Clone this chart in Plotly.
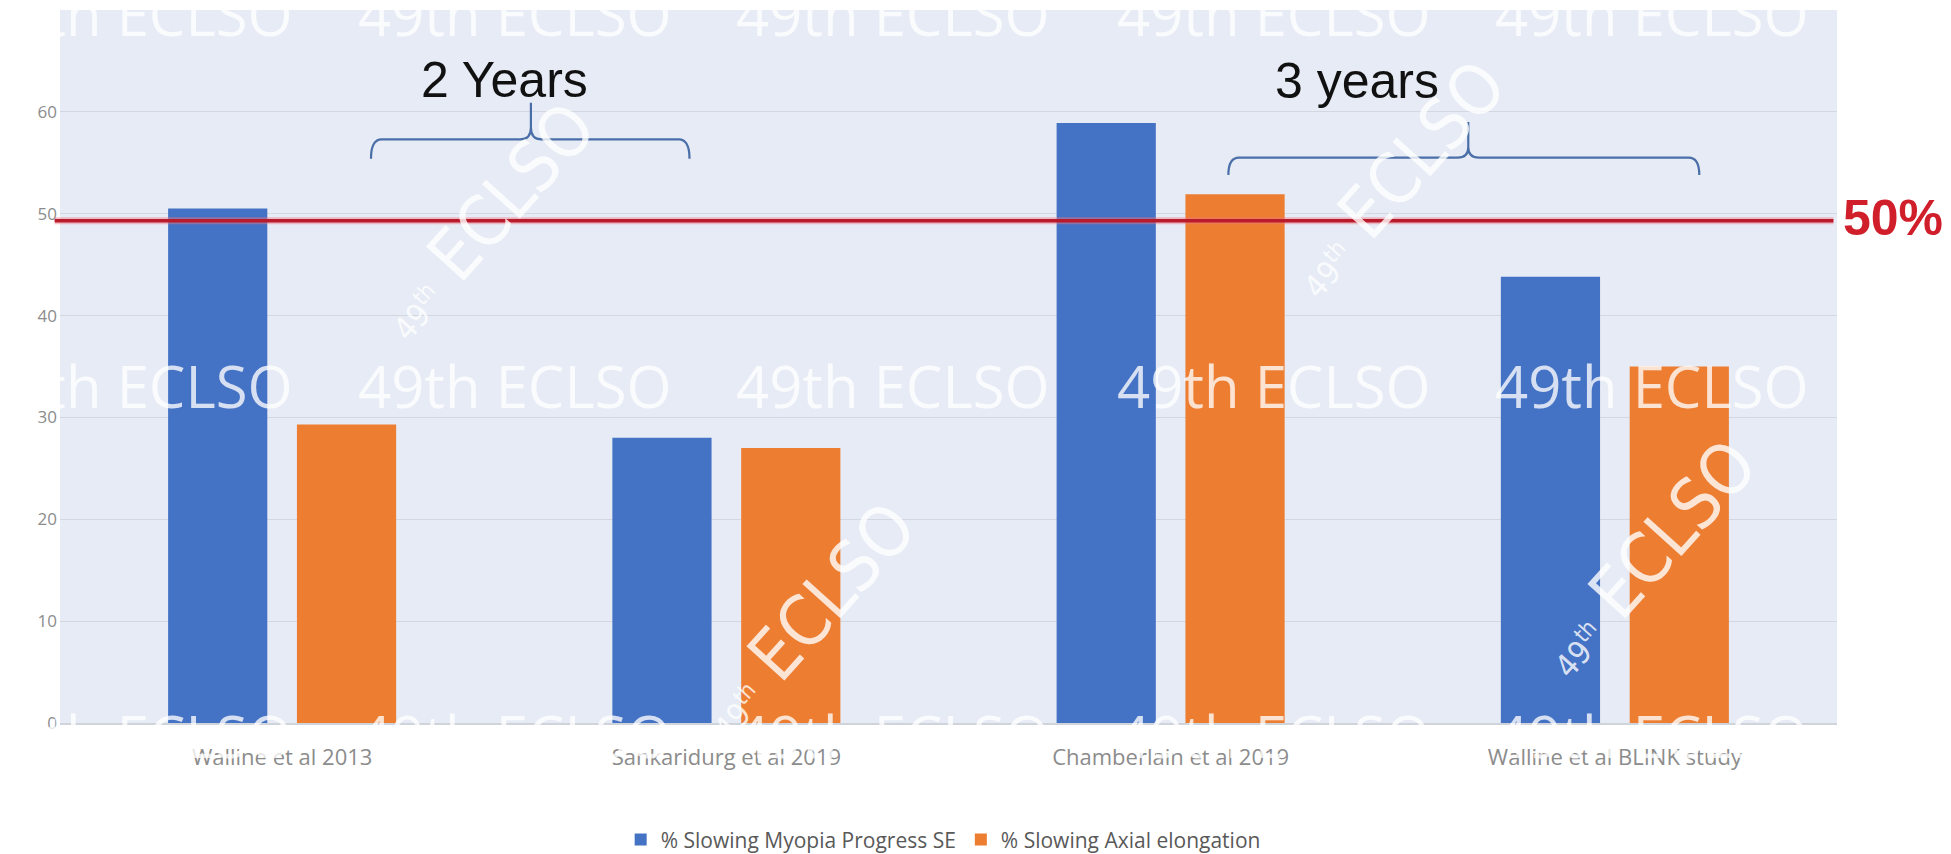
import plotly.graph_objects as go

# ---------------- data ----------------
studies = ["Walline et al 2013", "Sankaridurg et al 2019",
           "Chamberlain et al 2019", "Walline et al BLINK study"]
myopia_se = [50.5, 28.0, 58.9, 43.8]
axial_el = [29.3, 27.0, 51.9, 35.0]
series_names = ["% Slowing Myopia Progress SE", "% Slowing Axial elongation"]
threshold = 49.3
threshold_label = "50%"
y_ticks = [0, 10, 20, 30, 40, 50, 60, 70]
watermark = "49th ECLSO"

BLUE = "#4472C4"
ORANGE = "#ED7D31"
BG = "#E6EBF5"

fig = go.Figure()
fig.add_trace(go.Bar(x=studies, y=myopia_se, name=series_names[0],
                     marker=dict(color=BLUE, line=dict(width=0))))
fig.add_trace(go.Bar(x=studies, y=axial_el, name=series_names[1],
                     marker=dict(color=ORANGE, line=dict(width=0))))

n = len(studies)
def px(idx):
    # category index -> paper x (range -0.5 .. n-0.5)
    return (idx + 0.5) / n

shapes = []
# 50% threshold line (extends slightly beyond plot on the left)
shapes.append(dict(type="line", xref="paper", yref="y", x0=-0.003, x1=0.998,
                   y0=threshold, y1=threshold,
                   line=dict(color="rgba(240,120,130,0.45)", width=7), layer="above"))
shapes.append(dict(type="line", xref="paper", yref="y", x0=-0.003, x1=0.998,
                   y0=threshold, y1=threshold,
                   line=dict(color="#B81C2C", width=3.5), layer="above"))

def bracket(i0, i1, ipk, yh, yend, ytop):
    x0, x1, xp = px(i0), px(i1), px(ipk)
    d = 0.006
    dy = (yh - yend) * 0.6
    path = (f"M {x0},{yend} Q {x0},{yh} {x0+d},{yh} L {xp-d},{yh} "
            f"Q {xp},{yh} {xp},{yh+dy} L {xp},{ytop} "
            f"M {xp},{yh+dy} Q {xp},{yh} {xp+d},{yh} L {x1-d},{yh} "
            f"Q {x1},{yh} {x1},{yend}")
    return dict(type="path", xref="paper", yref="y", path=path,
                line=dict(color="#4A6FA8", width=2.2), layer="above")

shapes.append(bracket(0.20, 0.917, 0.56, 57.3, 55.4, 60.9))
shapes.append(bracket(2.13, 3.19, 2.67, 55.5, 53.8, 59.0))

annotations = []
# watermark rows
wm_cols = [0.043, 0.256, 0.469, 0.683, 0.896]
wm_rows = [0.995, 0.473, -0.018]
for yy in wm_rows:
    for xx in wm_cols:
        annotations.append(dict(text=watermark, xref="paper", yref="paper",
                                x=xx, y=yy, xanchor="center", yanchor="middle",
                                showarrow=False,
                                font=dict(family="Open Sans", size=58,
                                          color="rgba(255,255,255,0.78)")))
# rotated logos
logos = [(0.240, 0.705), (0.752, 0.765), (0.420, 0.145), (0.893, 0.232)]
for xx, yy in logos:
    annotations.append(dict(
        text="<span style='font-size:32px'>49<sup>th</sup></span> ECLSO",
        xref="paper", yref="paper", x=xx, y=yy, xanchor="center", yanchor="middle",
        showarrow=False, textangle=-48,
        font=dict(family="Liberation Sans Narrow, DejaVu Sans Condensed, Roboto Condensed, Roboto",
                  size=70, color="rgba(255,255,255,0.8)")))

# bracket labels
annotations.append(dict(text="2 Years", xref="paper", yref="y", x=px(0.5), y=63.1,
                        showarrow=False, xanchor="center", yanchor="middle",
                        font=dict(family="Liberation Sans, Arial", size=50, color="#111111")))
annotations.append(dict(text="3 years", xref="paper", yref="y", x=px(2.42), y=63.0,
                        showarrow=False, xanchor="center", yanchor="middle",
                        font=dict(family="Liberation Sans, Arial", size=50, color="#111111")))
# 50% label
annotations.append(dict(text="<b>" + threshold_label + "</b>", xref="paper", yref="y",
                        x=1.002, y=threshold + 0.3, xanchor="left", yanchor="middle",
                        showarrow=False,
                        font=dict(family="Liberation Sans, Arial", size=50, color="#D01F2B")))

fig.update_layout(
    width=1951, height=854,
    margin=dict(l=60, r=114, t=10, b=131, autoexpand=False),
    paper_bgcolor="white", plot_bgcolor=BG,
    barmode="group", bargap=0.42, bargroupgap=0.23,
    shapes=shapes, annotations=annotations,
    showlegend=True,
    legend=dict(orientation="h", x=0.497, xanchor="center", y=-0.164, yanchor="middle",
                font=dict(family="Open Sans", size=21, color="#595959"),
                traceorder="normal"),
    xaxis=dict(range=[-0.5, n - 0.5], showgrid=False, showline=True,
               linecolor="#CFD3DA", linewidth=1.5, ticks="",
               tickfont=dict(family="Open Sans", size=22, color="#8C8C8C"),
               ticklabelstandoff=14),
    yaxis=dict(range=[0, 70], tickvals=y_ticks, showgrid=True, gridcolor="#D3D8E0",
               gridwidth=1, zeroline=False, showline=False, ticks="",
               tickfont=dict(family="Open Sans", size=17, color="#8C8C8C"),
               ticklabelstandoff=2),
)

fig.write_html("out.html")
